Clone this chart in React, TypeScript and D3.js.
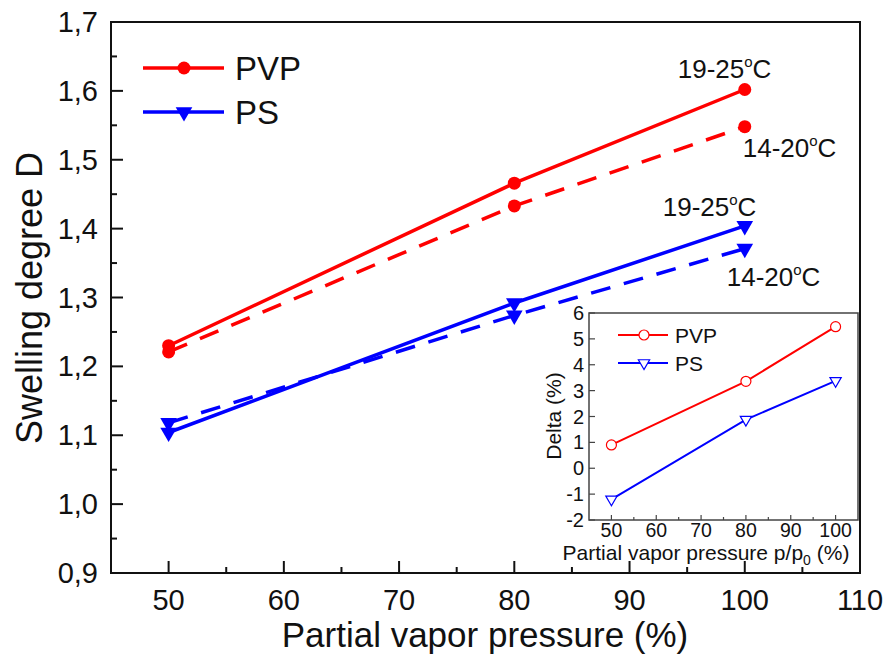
import React from "react";
import * as d3 from "d3";

const pressures = [50, 80, 100];
const pvpWarm = [1.23, 1.466, 1.602];
const pvpCool = [1.221, 1.433, 1.548];
const psWarm = [1.104, 1.292, 1.404];
const psCool = [1.118, 1.274, 1.371];
const deltaPVP = [0.9, 3.36, 5.47];
const deltaPS = [-1.2, 1.88, 3.38];
const mainXTicks = [50, 60, 70, 80, 90, 100, 110];
const mainYTicks = [0.9, 1.0, 1.1, 1.2, 1.3, 1.4, 1.5, 1.6, 1.7];
const insetXTicks = [50, 60, 70, 80, 90, 100];
const insetYTicks = [-2, -1, 0, 1, 2, 3, 4, 5, 6];

const RED = "#ff0000";
const BLUE = "#0000ff";
const FONT = "'Liberation Sans', Arial, sans-serif";

export default function App() {
  const W = 889, H = 656;
  const x = d3.scaleLinear().domain([45, 110]).range([111, 860]);
  const y = d3.scaleLinear().domain([0.9, 1.7]).range([573, 22]);
  const ix = d3.scaleLinear().domain([45, 105]).range([589, 858]);
  const iy = d3.scaleLinear().domain([-2, 6]).range([520, 313]);

  const mline = (vals: number[]) =>
    d3.line<number>().x((_, i) => x(pressures[i])).y((v) => y(v))(vals) || "";
  const iline = (vals: number[]) =>
    d3.line<number>().x((_, i) => ix(pressures[i])).y((v) => iy(v))(vals) || "";

  const triBig = d3.symbol().type(d3.symbolTriangle).size(120)() || "";
  const triSmall = d3.symbol().type(d3.symbolTriangle).size(55)() || "";
  const fmt = (v: number) => d3.format(".1f")(v).replace(".", ",");

  const minorX = d3.range(45, 111, 5).filter((v) => v % 10 !== 0);
  const minorY = d3.range(0, 8).map((i) => 0.95 + i * 0.1);
  const insetMinorX = d3.range(55, 105, 10);

  const series = [
    { vals: pvpWarm, color: RED, dash: undefined, marker: "c" },
    { vals: pvpCool, color: RED, dash: "20 14", marker: "c" },
    { vals: psWarm, color: BLUE, dash: undefined, marker: "t" },
    { vals: psCool, color: BLUE, dash: "20 14", marker: "t" },
  ];

  const degText = (tx: number, ty: number, label: string) => (
    <text x={tx} y={ty} fontSize={26} fontFamily={FONT} fill="#111">
      {label}
      <tspan fontSize={15} dy={-11}>o</tspan>
      <tspan dy={11}>C</tspan>
    </text>
  );

  return (
    <svg width={W} height={H} style={{ position: "absolute", left: 0, top: 0, background: "#fff" }}>
      <rect x={0} y={0} width={W} height={H} fill="#fff" />
      {/* main frame */}
      <rect x={111} y={22} width={749} height={551} fill="none" stroke="#111" strokeWidth={2} />
      {/* main x ticks */}
      {mainXTicks.map((t) => (
        <g key={"mx" + t}>
          <line x1={x(t)} x2={x(t)} y1={573} y2={561} stroke="#111" strokeWidth={2} />
          <text x={x(t)} y={610} textAnchor="middle" fontSize={29} fontFamily={FONT} fill="#111">{t}</text>
        </g>
      ))}
      {minorX.map((t) => (
        <line key={"mmx" + t} x1={x(t)} x2={x(t)} y1={573} y2={567} stroke="#111" strokeWidth={2} />
      ))}
      {mainYTicks.map((t) => (
        <g key={"my" + t}>
          <line x1={111} x2={123} y1={y(t)} y2={y(t)} stroke="#111" strokeWidth={2} />
          <text x={98} y={y(t) + 10} textAnchor="end" fontSize={29} fontFamily={FONT} fill="#111">{fmt(t)}</text>
        </g>
      ))}
      {minorY.map((t) => (
        <line key={"mmy" + t} x1={111} x2={117} y1={y(t)} y2={y(t)} stroke="#111" strokeWidth={2} />
      ))}
      <text x={485} y={647} textAnchor="middle" fontSize={35} fontFamily={FONT} fill="#111">Partial vapor pressure (%)</text>
      <text transform="translate(42,298) rotate(-90)" textAnchor="middle" fontSize={36} fontFamily={FONT} fill="#111">Swelling degree D</text>

      {/* series */}
      {series.map((s, si) => (
        <g key={"s" + si}>
          <path d={mline(s.vals)} fill="none" stroke={s.color} strokeWidth={3.5} strokeDasharray={s.dash} />
          {s.vals.map((v, i) =>
            s.marker === "c" ? (
              <circle key={i} cx={x(pressures[i])} cy={y(v)} r={6.5} fill={s.color} />
            ) : (
              <path key={i} d={triBig} transform={`translate(${x(pressures[i])},${y(v)}) rotate(180)`} fill={s.color} />
            )
          )}
        </g>
      ))}

      {/* annotations */}
      {degText(x(100) - 67, y(pvpWarm[2]) - 11, "19-25")}
      {degText(x(100) - 2, y(pvpCool[2]) + 30, "14-20")}
      {degText(x(100) - 82, y(psWarm[2]) - 10, "19-25")}
      {degText(x(100) - 18, y(psCool[2]) + 37, "14-20")}

      {/* main legend */}
      <line x1={143} x2={224} y1={68} y2={68} stroke={RED} strokeWidth={3.5} />
      <circle cx={184} cy={68} r={6.5} fill={RED} />
      <text x={235} y={80} fontSize={33} fontFamily={FONT} fill="#111">PVP</text>
      <line x1={143} x2={224} y1={112} y2={112} stroke={BLUE} strokeWidth={3.5} />
      <path d={triBig} transform="translate(184,112) rotate(180)" fill={BLUE} />
      <text x={235} y={124} fontSize={33} fontFamily={FONT} fill="#111">PS</text>

      {/* inset */}
      <rect x={589} y={313} width={269} height={207} fill="#fff" stroke="#444" strokeWidth={1.5} />
      {insetXTicks.map((t) => (
        <g key={"ix" + t}>
          <line x1={ix(t)} x2={ix(t)} y1={520} y2={515} stroke="#444" strokeWidth={1.2} />
          <text x={ix(t)} y={537} textAnchor="middle" fontSize={19.5} fontFamily={FONT} fill="#111">{t}</text>
        </g>
      ))}
      {insetMinorX.map((t) => (
        <line key={"imx" + t} x1={ix(t)} x2={ix(t)} y1={520} y2={517} stroke="#444" strokeWidth={1.2} />
      ))}
      {insetYTicks.map((t) => (
        <g key={"iy" + t}>
          <line x1={589} x2={595} y1={iy(t)} y2={iy(t)} stroke="#444" strokeWidth={1.2} />
          <text x={584} y={iy(t) + 7} textAnchor="end" fontSize={20} fontFamily={FONT} fill="#111">{t}</text>
        </g>
      ))}
      <text x={706} y={560} textAnchor="middle" fontSize={21} fontFamily={FONT} fill="#111">
        Partial vapor pressure p/p<tspan fontSize={14} dy={5}>0</tspan><tspan dy={-5}> (%)</tspan>
      </text>
      <text transform="translate(561,416) rotate(-90)" textAnchor="middle" fontSize={21} fontFamily={FONT} fill="#111">Delta (%)</text>

      <path d={iline(deltaPVP)} fill="none" stroke={RED} strokeWidth={2} />
      {deltaPVP.map((v, i) => (
        <circle key={"ip" + i} cx={ix(pressures[i])} cy={iy(v)} r={5} fill="#fff" stroke={RED} strokeWidth={1.2} />
      ))}
      <path d={iline(deltaPS)} fill="none" stroke={BLUE} strokeWidth={2} />
      {deltaPS.map((v, i) => (
        <path key={"is" + i} d={triSmall} transform={`translate(${ix(pressures[i])},${iy(v)}) rotate(180)`} fill="#fff" stroke={BLUE} strokeWidth={1.2} />
      ))}

      {/* inset legend */}
      <line x1={618} x2={668} y1={335} y2={335} stroke={RED} strokeWidth={2} />
      <circle cx={644} cy={335} r={5} fill="#fff" stroke={RED} strokeWidth={1.2} />
      <text x={675} y={343} fontSize={21} fontFamily={FONT} fill="#111">PVP</text>
      <line x1={618} x2={668} y1={363} y2={363} stroke={BLUE} strokeWidth={2} />
      <path d={triSmall} transform="translate(644,363) rotate(180)" fill="#fff" stroke={BLUE} strokeWidth={1.2} />
      <text x={675} y={371} fontSize={21} fontFamily={FONT} fill="#111">PS</text>
    </svg>
  );
}
